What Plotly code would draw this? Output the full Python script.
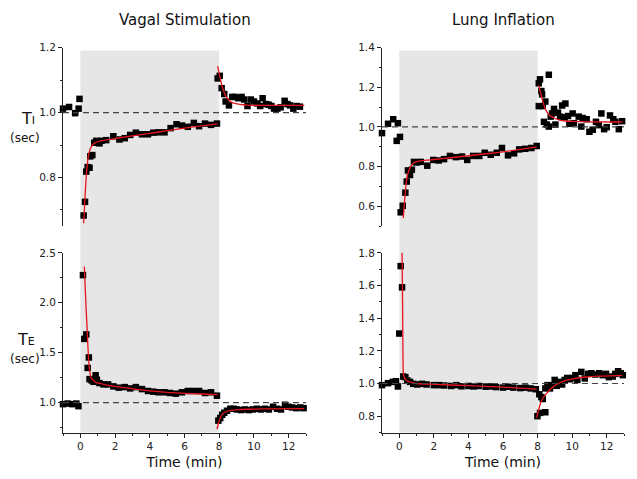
import plotly.graph_objects as go

# ---------------- data ----------------
STIM_START = 0
STIM_END = 8
BASELINE = 1.0

col_titles = ["Vagal Stimulation", "Lung Inflation"]
x_ticks = [0, 2, 4, 6, 8, 10, 12]

# Vagal stimulation, TI
vs_ti_t = [-1.0, -0.65, -0.3, -0.1, -0.05,
           0.19, 0.27, 0.34, 0.42, 0.53, 0.57, 0.69, 0.8, 0.92, 1.1, 1.22, 1.49, 1.9, 2.25, 2.56, 2.87,
           3.2, 3.55, 3.9, 4.2, 4.5, 4.85, 5.2, 5.54, 5.85, 6.19, 6.54, 6.84, 7.18, 7.53, 7.87,
           7.91, 8.03, 8.14, 8.29, 8.37, 8.56, 8.75, 8.9, 9.1, 9.29, 9.44, 9.63, 9.82, 10.0, 10.2,
           10.36, 10.5, 10.7, 10.85, 11.0, 11.16, 11.35, 11.54, 11.77, 11.93, 12.08, 12.27, 12.46, 12.65]
vs_ti_v = [1.012, 1.017, 0.998, 1.012, 1.042,
           0.683, 0.725, 0.818, 0.832, 0.83, 0.865, 0.869, 0.907, 0.913, 0.905, 0.913, 0.915, 0.927, 0.917, 0.921, 0.931,
           0.938, 0.933, 0.933, 0.938, 0.939, 0.939, 0.952, 0.964, 0.96, 0.956, 0.968, 0.958, 0.966, 0.962, 0.966,
           1.105, 1.113, 1.075, 1.057, 1.034, 1.022, 1.048, 1.048, 1.044, 1.048, 1.04, 1.02, 1.04, 1.034, 1.028,
           1.02, 1.044, 1.026, 1.024, 1.02, 1.012, 1.012, 1.016, 1.036, 1.026, 1.022, 1.012, 1.02, 1.018]
vs_ti_fit1_t = [0.19, 0.25, 0.3, 0.35, 0.4, 0.45, 0.5, 0.6, 0.7, 0.8, 1.0, 1.5, 2, 3, 4, 5, 6, 7, 7.9]
vs_ti_fit1_v = [0.659, 0.72, 0.77, 0.81, 0.84, 0.862, 0.876, 0.892, 0.9, 0.905, 0.91, 0.916, 0.92, 0.928, 0.936, 0.944, 0.952, 0.959, 0.965]
vs_ti_fit2_t = [7.91, 8.0, 8.1, 8.2, 8.3, 8.4, 8.55, 8.7, 8.9, 9.2, 9.6, 10.5, 12.9]
vs_ti_fit2_v = [1.143, 1.12, 1.095, 1.075, 1.06, 1.048, 1.038, 1.032, 1.028, 1.025, 1.023, 1.022, 1.022]

# Vagal stimulation, TE
vs_te_t = [-1.0, -0.73, -0.46, -0.23, -0.11,
           0.15, 0.23, 0.34, 0.42, 0.49, 0.53, 0.65, 0.76, 0.88, 0.95, 1.1, 1.33, 1.6, 1.9, 2.21, 2.56, 2.87,
           3.2, 3.55, 3.9, 4.2, 4.5, 4.85, 5.16, 5.5, 5.85, 6.19, 6.5, 6.84, 7.18, 7.53, 7.87,
           7.95, 8.06, 8.17, 8.29, 8.45, 8.64, 8.83, 9.02, 9.25, 9.48, 9.71, 9.94, 10.17, 10.4, 10.63,
           10.86, 11.1, 11.33, 11.56, 11.79, 11.98, 12.2, 12.44, 12.67, 12.86]
vs_te_v = [0.984, 0.99, 0.984, 0.99, 0.964,
           2.277, 1.638, 1.683, 1.347, 1.452, 1.235, 1.222, 1.208, 1.274, 1.228, 1.195, 1.182, 1.182, 1.162, 1.149, 1.155, 1.142,
           1.155, 1.135, 1.116, 1.109, 1.103, 1.103, 1.096, 1.089, 1.103, 1.116, 1.116, 1.116, 1.096, 1.103, 1.069,
           0.819, 0.845, 0.878, 0.898, 0.918, 0.938, 0.938, 0.931, 0.925, 0.931, 0.925, 0.931, 0.938, 0.931, 0.938,
           0.931, 0.958, 0.938, 0.931, 0.978, 0.958, 0.951, 0.944, 0.951, 0.944]
vs_te_fit1_t = [0.23, 0.28, 0.33, 0.38, 0.43, 0.49, 0.55, 0.6, 0.7, 0.8, 0.92, 1.2, 1.5, 1.87, 2.5, 3, 4, 5, 6, 7, 7.9]
vs_te_fit1_v = [2.363, 2.15, 1.95, 1.776, 1.58, 1.4, 1.3, 1.26, 1.23, 1.215, 1.2, 1.19, 1.175, 1.165, 1.15, 1.138, 1.118, 1.103, 1.093, 1.086, 1.08]
vs_te_fit2_t = [7.87, 7.95, 8.0, 8.1, 8.2, 8.35, 8.56, 8.8, 9.1, 9.6, 10.5, 12.9]
vs_te_fit2_v = [0.733, 0.79, 0.82, 0.86, 0.885, 0.905, 0.918, 0.925, 0.93, 0.933, 0.936, 0.94]

# Lung inflation, TI
li_ti_t = [-1.0, -0.65, -0.35, -0.15, -0.08, 0.04,
           0.08, 0.2, 0.35, 0.43, 0.5, 0.62, 0.73, 0.85, 1.0, 1.24, 1.62, 1.97, 2.28, 2.59, 2.93, 3.28, 3.63,
           3.93, 4.28, 4.63, 4.94, 5.29, 5.64, 5.94, 6.29, 6.64, 6.94, 7.29, 7.64, 7.95,
           8.07, 8.14, 8.22, 8.07, 8.3, 8.26, 8.45, 8.37, 8.53, 8.65, 8.65, 8.76, 8.84, 8.95, 9.03, 9.18,
           9.3, 9.42, 9.61, 9.57, 9.76, 9.84, 10.03, 10.1, 10.38, 10.53, 10.61, 10.84, 11.0, 11.19, 11.38,
           11.54, 11.69, 11.85, 12.0, 12.19, 12.38, 12.5, 12.7, 12.89]
li_ti_v = [0.969, 1.016, 1.039, 0.93, 1.019, 0.95,
           0.57, 0.603, 0.669, 0.725, 0.781, 0.758, 0.785, 0.824, 0.821, 0.824, 0.805, 0.834, 0.831, 0.838, 0.854, 0.848, 0.851,
           0.834, 0.854, 0.854, 0.87, 0.86, 0.87, 0.894, 0.857, 0.867, 0.887, 0.89, 0.894, 0.904,
           1.22, 1.24, 1.181, 1.105, 1.105, 1.164, 1.128, 1.026, 1.012, 1.002, 1.263, 1.052, 1.068, 1.091, 1.012, 1.072,
           1.052, 1.108, 1.118, 1.049, 1.055, 1.016, 1.068, 1.019, 1.052, 1.002, 1.045, 1.039, 0.976, 0.986, 1.026,
           1.009, 1.068, 0.989, 0.999, 1.058, 1.039, 1.026, 0.989, 1.029]
li_ti_fit1_t = [0.23, 0.3, 0.38, 0.45, 0.55, 0.65, 0.82, 1.0, 1.2, 1.6, 2, 3, 4, 5, 6, 7, 7.95]
li_ti_fit1_v = [0.541, 0.62, 0.7, 0.745, 0.78, 0.8, 0.818, 0.825, 0.829, 0.833, 0.836, 0.845, 0.855, 0.865, 0.875, 0.887, 0.9]
li_ti_fit2_t = [8.07, 8.15, 8.3, 8.45, 8.68, 8.95, 9.26, 9.6, 10, 11, 12.9]
li_ti_fit2_v = [1.21, 1.18, 1.13, 1.09, 1.06, 1.045, 1.035, 1.03, 1.028, 1.026, 1.025]

# Lung inflation, TE
li_te_t = [-1.0, -0.65, -0.38, -0.19, -0.08,
           0.0, 0.08, 0.16, 0.23, 0.35, 0.46, 0.62, 0.81, 1.04, 1.31, 1.58, 2.0, 2.3, 2.6, 3.0, 3.3, 3.6,
           4.0, 4.3, 4.6, 5.0, 5.3, 5.6, 6.0, 6.3, 6.6, 7.0, 7.3, 7.6, 7.9,
           7.99, 8.14, 8.1, 8.22, 8.3, 8.45, 8.45, 8.57, 8.72, 8.88, 8.99, 9.11, 9.26, 9.42, 9.57, 9.72,
           9.88, 10.03, 10.19, 10.3, 10.53, 10.73, 10.92, 11.11, 11.34, 11.57, 11.77, 11.96, 12.12, 12.35,
           12.5, 12.66, 12.81, 12.93]
li_te_v = [0.99, 1.002, 1.01, 1.014, 0.982,
           1.306, 1.719, 1.589, 1.043, 1.039, 1.019, 1.01, 0.998, 0.994, 0.998, 0.994, 0.99, 0.99, 0.988, 0.985, 0.99, 0.983,
           0.985, 0.982, 0.985, 0.98, 0.982, 0.978, 0.975, 0.98, 0.975, 0.972, 0.975, 0.97, 0.965,
           0.8, 0.82, 0.934, 0.917, 0.905, 0.824, 0.97, 0.99, 0.97, 0.99, 1.022, 0.986, 1.01, 0.994, 1.022, 1.034,
           1.026, 1.034, 1.051, 1.022, 1.071, 1.031, 1.059, 1.063, 1.055, 1.063, 1.051, 1.059, 1.039, 1.043,
           1.059, 1.075, 1.063, 1.051]
li_te_fit1_t = [0.16, 0.19, 0.21, 0.23, 0.27, 0.31, 0.4, 0.6, 1.0, 2, 4, 6, 7.95]
li_te_fit1_v = [1.816, 1.5, 1.2, 1.07, 1.045, 1.03, 1.02, 1.01, 1.0, 0.995, 0.987, 0.978, 0.965]
li_te_fit2_t = [7.95, 8.05, 8.14, 8.3, 8.53, 8.7, 8.9, 9.2, 9.68, 10.2, 10.84, 11.5, 12.9]
li_te_fit2_v = [0.79, 0.835, 0.87, 0.91, 0.94, 0.96, 0.98, 1.0, 1.02, 1.032, 1.04, 1.045, 1.05]

# ---------------- figure ----------------
W, H = 637, 479          # browser window
PAD = 8                  # default page body margin
FW, FH = W - 2 * PAD, H - 2 * PAD
FONT = "DejaVu Sans"
AX = "#222222"

def px_x(p):
    return (p - PAD) / FW

def px_y(p):
    return 1 - (p - PAD) / FH

col_dom = [[px_x(63), px_x(306)], [px_x(382), px_x(624)]]
row_dom = [[px_y(223), px_y(42)], [px_y(432), px_y(250)]]  # top, bottom

panels = [
    (0, 0, vs_ti_t, vs_ti_v, (vs_ti_fit1_t, vs_ti_fit1_v), (vs_ti_fit2_t, vs_ti_fit2_v), [0.65, 1.2], 0.2, 0.1),
    (0, 1, li_ti_t, li_ti_v, (li_ti_fit1_t, li_ti_fit1_v), (li_ti_fit2_t, li_ti_fit2_v), [0.5, 1.4], 0.2, 0.1),
    (1, 0, vs_te_t, vs_te_v, (vs_te_fit1_t, vs_te_fit1_v), (vs_te_fit2_t, vs_te_fit2_v), [0.7, 2.5], 0.5, 0.25),
    (1, 1, li_te_t, li_te_v, (li_te_fit1_t, li_te_fit1_v), (li_te_fit2_t, li_te_fit2_v), [0.7, 1.8], 0.2, 0.1),
]

fig = go.Figure()
layout = {}
shapes = []
for i, (r, c, t, v, f1, f2, yr, dt, mn) in enumerate(panels):
    n = i + 1
    xa = "x" if n == 1 else f"x{n}"
    ya = "y" if n == 1 else f"y{n}"
    fig.add_trace(go.Scatter(x=t, y=v, xaxis=xa, yaxis=ya, mode="markers",
                             marker=dict(symbol="square", size=6.5, color="black"),
                             cliponaxis=False, showlegend=False))
    for f in (f1, f2):
        fig.add_trace(go.Scatter(x=f[0], y=f[1], xaxis=xa, yaxis=ya, mode="lines",
                                 line=dict(color="#e8141e", width=1.3, shape="spline", smoothing=0.5),
                                 showlegend=False))
    bottom = (r == 1)
    layout["xaxis" if n == 1 else f"xaxis{n}"] = dict(
        domain=col_dom[c], anchor=ya, range=[-1, 13],
        tickvals=x_ticks if bottom else [], showticklabels=bottom,
        showline=bottom, linecolor=AX, linewidth=1,
        ticks="outside" if bottom else "", ticklen=4, tickcolor=AX,
        minor=dict(dtick=1, tick0=-1, ticks="outside" if bottom else "", ticklen=2, tickcolor=AX),
        showgrid=False, zeroline=False,
        tickfont=dict(family=FONT, size=10.5, color="#222"),
        title=dict(text="Time (min)" if bottom else "", font=dict(family=FONT, size=14, color="#111"),
                   standoff=6),
    )
    layout["yaxis" if n == 1 else f"yaxis{n}"] = dict(
        domain=row_dom[r], anchor=xa, range=yr,
        dtick=dt, tick0=0, tickformat=".1f",
        showline=True, linecolor=AX, linewidth=1,
        ticks="outside", ticklen=4, tickcolor=AX,
        minor=dict(dtick=mn, tick0=0, ticks="outside", ticklen=2, tickcolor=AX),
        showgrid=False, zeroline=False,
        tickfont=dict(family=FONT, size=10.5, color="#222"),
    )
    shapes.append(dict(type="line", xref=f"{xa} domain", yref=ya, x0=0, x1=1, y0=BASELINE, y1=BASELINE,
                       line=dict(color="#444", width=1.2, dash="6px,4px"), layer="above"))

for xa in ("x", "x2"):
    shapes.append(dict(type="rect", xref=xa, yref="paper", x0=STIM_START, x1=STIM_END,
                       y0=px_y(432), y1=px_y(45), fillcolor="#e6e6e6", line=dict(width=0), layer="below"))

annotations = []
for c, title in enumerate(col_titles):
    annotations.append(dict(text=title, xref="paper", yref="paper", x=sum(col_dom[c]) / 2, y=px_y(14),
                            showarrow=False, font=dict(family=FONT, size=15, color="#111"),
                            xanchor="center", yanchor="middle"))
annotations += [
    dict(text="T<span style='font-size:11px'>I</span>", xref="paper", yref="paper", x=px_x(28), y=px_y(114),
         showarrow=False, font=dict(family=FONT, size=16, color="#111"), xanchor="center", yanchor="middle"),
    dict(text="(sec)", xref="paper", yref="paper", x=px_x(25), y=px_y(134),
         showarrow=False, font=dict(family=FONT, size=12, color="#111"), xanchor="center", yanchor="middle"),
    dict(text="T<span style='font-size:11px'>E</span>", xref="paper", yref="paper", x=px_x(26), y=px_y(338),
         showarrow=False, font=dict(family=FONT, size=16, color="#111"), xanchor="center", yanchor="middle"),
    dict(text="(sec)", xref="paper", yref="paper", x=px_x(25), y=px_y(358),
         showarrow=False, font=dict(family=FONT, size=12, color="#111"), xanchor="center", yanchor="middle"),
]

fig.update_layout(**layout)
fig.update_layout(width=FW, height=FH, margin=dict(l=0, r=0, t=0, b=0),
                  plot_bgcolor="white", paper_bgcolor="white",
                  shapes=shapes, annotations=annotations, showlegend=False)

fig.write_html("out.html")
